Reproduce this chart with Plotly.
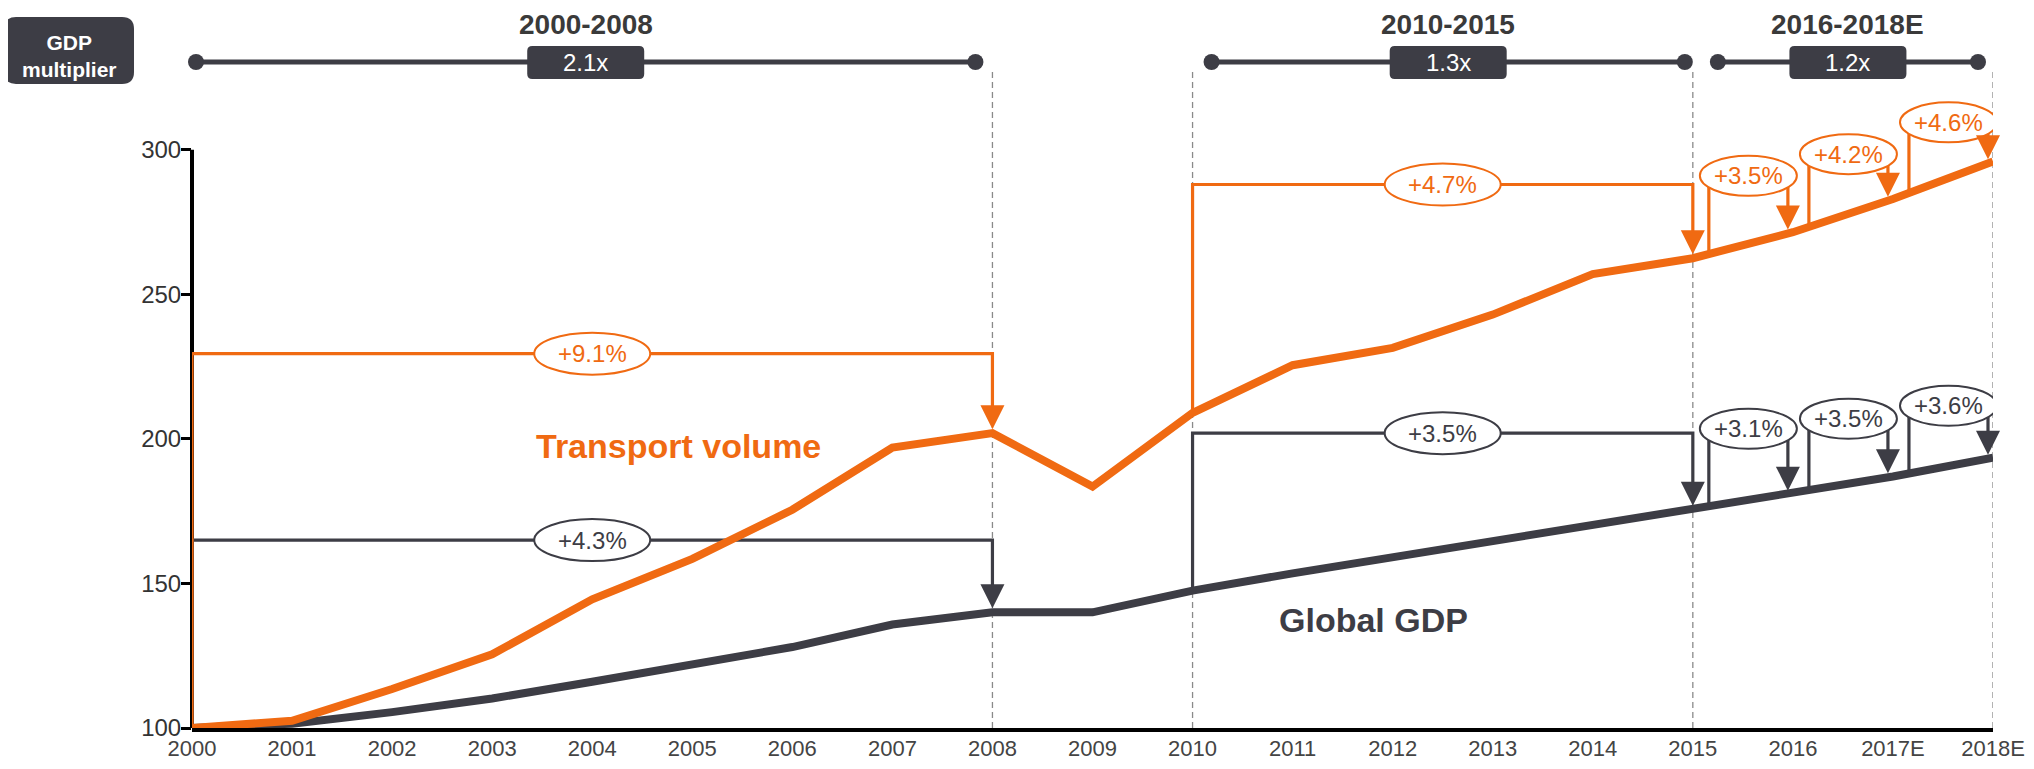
import plotly.graph_objects as go

# ---------------- data ----------------
years = ["2000", "2001", "2002", "2003", "2004", "2005", "2006", "2007", "2008", "2009",
         "2010", "2011", "2012", "2013", "2014", "2015", "2016", "2017E", "2018E"]
transport = [100, 102.5, 113.5, 125.5, 144.5, 158.5, 175.5, 197, 202, 183.5,
             209, 225.5, 231.5, 243, 257, 262.5, 271.5, 283, 296]
gdp = [100, 101.5, 105.5, 110.2, 116, 122, 128, 135.8, 140, 140,
       147.5, 153.5, 159, 164.5, 170, 175.5, 181, 187, 193.5]

# long-period CAGR brackets (category index of start / end)
long_start = [0, 10]
long_end = [8, 15]
tv_long_h = [229.5, 288]
tv_long_lbl = ["+9.1%", "+4.7%"]
gdp_long_h = [165, 202]
gdp_long_lbl = ["+4.3%", "+3.5%"]

# yearly growth brackets
short_start = [15, 16, 17]
tv_short_h = [291, 298.5, 309.5]
tv_short_lbl = ["+3.5%", "+4.2%", "+4.6%"]
gdp_short_h = [203.5, 207, 211.5]
gdp_short_lbl = ["+3.1%", "+3.5%", "+3.6%"]

# GDP multiplier periods (top band)
periods = ["2000-2008", "2010-2015", "2016-2018E"]
period_x0 = [0.04, 10.19, 15.25]
period_x1 = [7.83, 14.92, 17.85]
multipliers = ["2.1x", "1.3x", "1.2x"]
divider_idx = [8, 10, 15, 18]

# ---------------- style ----------------
ORANGE = "#F06A12"
DARK = "#3D3D45"
TXT = "#3A3A3A"
FONT = "Liberation Sans, Arial, sans-serif"

# the page body has an 8px margin: size the figure so the page is exactly 2034x769
OFF = 8
FW, FH = 2034 - 2 * OFF, 769 - 2 * OFF
# plot area in page pixels
P_LEFT, P_RIGHT, P_TOP, P_BOT = 192, 1993, 92, 728
L = P_LEFT - OFF
T = P_TOP - OFF
R = FW - (P_RIGHT - OFF)
B = FH - (P_BOT - OFF)
PW, PH = P_RIGHT - P_LEFT, P_BOT - P_TOP
XMAX = len(years) - 1
YMIN, YMAX = 100, 320
PXX = PW / XMAX           # px per category
PXY = PH / (YMAX - YMIN)  # px per unit


def xp(px):
    return (px - P_LEFT) / PW


def yp(py):
    return (P_BOT - py) / PH


def dx(d):
    return d / XMAX


def interp(series, x):
    i = int(x)
    if i >= len(series) - 1:
        return series[-1]
    f = x - i
    return series[i] + (series[i + 1] - series[i]) * f


def rrect_path(x0, y0, x1, y1, r):
    # page-pixel coords -> paper path with rounded corners
    pts = [
        ("M", [(x0 + r, y0)]),
        ("L", [(x1 - r, y0)]),
        ("Q", [(x1, y0), (x1, y0 + r)]),
        ("L", [(x1, y1 - r)]),
        ("Q", [(x1, y1), (x1 - r, y1)]),
        ("L", [(x0 + r, y1)]),
        ("Q", [(x0, y1), (x0, y1 - r)]),
        ("L", [(x0, y0 + r)]),
        ("Q", [(x0, y0), (x0 + r, y0)]),
    ]
    s = ""
    for cmd, ps in pts:
        s += cmd + " ".join("%.5f,%.5f" % (xp(a), yp(b)) for a, b in ps) + " "
    return s + "Z"


fig = go.Figure()
shapes = []
annotations = []
GAP = 4 / PXY  # arrow tip sits on the top edge of the thick line


def add_bracket(series, xs, ylvl, color):
    xl, xr = xs
    yl = interp(series, xl)
    yr = interp(series, xr) + GAP
    fig.add_trace(go.Scatter(x=[xl, xl, xr, xr], y=[yl, ylvl, ylvl, yr + 18 / PXY],
                             mode="lines", line=dict(color=color, width=3.2),
                             hoverinfo="skip", showlegend=False))
    annotations.append(dict(x=xr, y=yr, xref="x", yref="y", ax=0, ay=-20, text="",
                            showarrow=True, arrowhead=2, arrowsize=1.5, arrowwidth=3.2,
                            arrowcolor=color, standoff=0))


def add_label(xc, ylvl, text, color, wpx, hpx):
    hw = wpx / 2 / PXX
    hh = hpx / 2 / PXY
    shapes.append(dict(type="circle", xref="x", yref="y", x0=xc - hw, x1=xc + hw,
                       y0=ylvl - hh, y1=ylvl + hh, fillcolor="white",
                       line=dict(color=color, width=2), layer="above"))
    annotations.append(dict(x=xc, y=ylvl, xref="x", yref="y", text=text, showarrow=False,
                            xanchor="center", yanchor="middle",
                            font=dict(family=FONT, size=24, color=color)))


# dark brackets first, then orange
for s, e, h in zip(long_start, long_end, gdp_long_h):
    add_bracket(gdp, (s, e), h, DARK)
for s, h in zip(short_start, gdp_short_h):
    add_bracket(gdp, (s + 0.16, s + 0.95), h, DARK)
for s, e, h in zip(long_start, long_end, tv_long_h):
    add_bracket(transport, (s, e), h, ORANGE)
for s, h in zip(short_start, tv_short_h):
    add_bracket(transport, (s + 0.16, s + 0.95), h, ORANGE)

# main series
xidx = list(range(len(years)))
fig.add_trace(go.Scatter(x=xidx, y=gdp, mode="lines", name="Global GDP",
                         line=dict(color=DARK, width=8), showlegend=False))
fig.add_trace(go.Scatter(x=xidx, y=transport, mode="lines", name="Transport volume",
                         line=dict(color=ORANGE, width=8), showlegend=False))

# ellipse labels
for s, e, h, lbl in zip(long_start, long_end, gdp_long_h, gdp_long_lbl):
    add_label((s + e) / 2, h, lbl, DARK, 116, 42)
for s, e, h, lbl in zip(long_start, long_end, tv_long_h, tv_long_lbl):
    add_label((s + e) / 2, h, lbl, ORANGE, 116, 42)
for s, h, lbl in zip(short_start, gdp_short_h, gdp_short_lbl):
    add_label(s + 0.555, h, lbl, DARK, 97, 40)
for s, h, lbl in zip(short_start, tv_short_h, tv_short_lbl):
    add_label(s + 0.555, h, lbl, ORANGE, 97, 40)

# series labels
annotations.append(dict(x=4.86, y=197.5, xref="x", yref="y", text="<b>Transport volume</b>",
                        showarrow=False, xanchor="center", yanchor="middle",
                        font=dict(family=FONT, size=34, color=ORANGE)))
annotations.append(dict(x=11.81, y=137.5, xref="x", yref="y", text="<b>Global GDP</b>",
                        showarrow=False, xanchor="center", yanchor="middle",
                        font=dict(family=FONT, size=34, color=DARK)))

# y axis line (stops at 300)
shapes.append(dict(type="line", xref="paper", yref="y", x0=0, x1=0, y0=100, y1=300,
                   line=dict(color="black", width=4), layer="below"))

# dashed dividers
for d in divider_idx:
    shapes.append(dict(type="line", xref="x", yref="paper", x0=d, x1=d, y0=0, y1=yp(68),
                       line=dict(color="#8A8A8A", width=1.3, dash="6px,4px"), layer="below"))

# top band: multiplier brackets
BY = 62
for name, x0, x1, m in zip(periods, period_x0, period_x1, multipliers):
    shapes.append(dict(type="line", xref="paper", yref="paper", x0=dx(x0), x1=dx(x1),
                       y0=yp(BY), y1=yp(BY), line=dict(color=DARK, width=5)))
    for xx in (x0, x1):
        cx = P_LEFT + xx * PXX
        shapes.append(dict(type="circle", xref="paper", yref="paper",
                           x0=xp(cx - 8), x1=xp(cx + 8), y0=yp(BY + 8), y1=yp(BY - 8),
                           fillcolor=DARK, line=dict(color=DARK, width=0)))
    cx = P_LEFT + (x0 + x1) / 2 * PXX
    shapes.append(dict(type="path", xref="paper", yref="paper",
                       path=rrect_path(cx - 58.5, BY - 16, cx + 58.5, BY + 17, 5),
                       fillcolor=DARK, line=dict(color=DARK, width=0)))
    annotations.append(dict(x=xp(cx), y=yp(BY + 0.5), xref="paper", yref="paper", text=m,
                            showarrow=False, xanchor="center", yanchor="middle",
                            font=dict(family=FONT, size=24, color="white")))
    annotations.append(dict(x=xp(cx), y=yp(25), xref="paper", yref="paper",
                            text="<b>%s</b>" % name, showarrow=False,
                            xanchor="center", yanchor="middle",
                            font=dict(family=FONT, size=28, color=TXT)))

# GDP multiplier box
shapes.append(dict(type="path", xref="paper", yref="paper",
                   path=rrect_path(4, 17, 134, 84, 12), fillcolor=DARK,
                   line=dict(color=DARK, width=0)))
annotations.append(dict(x=xp(69), y=yp(56), xref="paper", yref="paper",
                        text="<b>GDP<br>multiplier</b>", showarrow=False,
                        xanchor="center", yanchor="middle",
                        font=dict(family=FONT, size=21, color="white")))

fig.update_layout(
    width=FW, height=FH,
    margin=dict(l=L, r=R, t=T, b=B, autoexpand=False),
    paper_bgcolor="white", plot_bgcolor="white",
    shapes=shapes, annotations=annotations,
    xaxis=dict(range=[0, XMAX], tickvals=xidx, ticktext=years, showline=True,
               linecolor="black", linewidth=4, ticks="",
               showgrid=False, zeroline=False, automargin=False, ticklabelstandoff=-2,
               tickfont=dict(family=FONT, size=22, color="#444444")),
    yaxis=dict(range=[YMIN, YMAX], tickvals=[100, 150, 200, 250, 300], ticks="outside",
               ticklen=10, tickwidth=3, tickcolor="black", showline=False,
               showgrid=False, zeroline=False, automargin=False, ticklabelstandoff=-5,
               tickfont=dict(family=FONT, size=24, color="#333333")),
    showlegend=False,
)

fig.write_html("out.html")
